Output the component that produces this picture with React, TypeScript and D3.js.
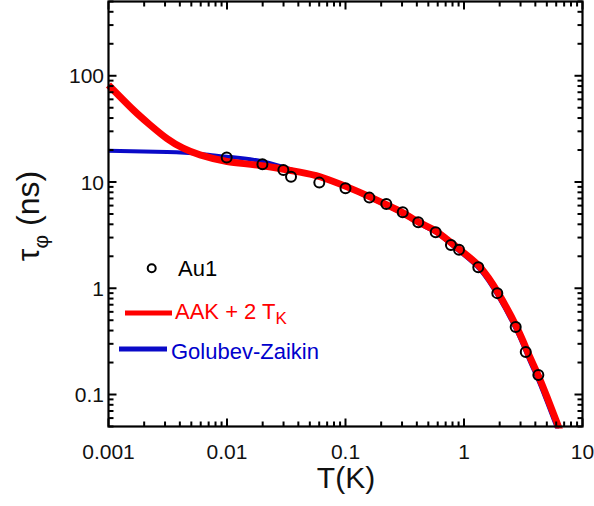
import React from "react";
import * as d3 from "d3";

// Experimental data: Au1
const dataT = [0.00994, 0.0199, 0.0299, 0.0347, 0.0601, 0.1, 0.159, 0.221, 0.304, 0.411, 0.577, 0.776, 0.908, 1.32, 1.91, 2.73, 3.32, 4.24];
const dataTau = [17.0, 14.7, 13.0, 11.2, 9.87, 8.75, 7.13, 6.22, 5.2, 4.19, 3.37, 2.56, 2.3, 1.58, 0.9, 0.431, 0.251, 0.153];

// AAK + 2 T_K curve
const aakT = [0.001, 0.00161, 0.00224, 0.00312, 0.00426, 0.00592, 0.01, 0.019, 0.0413, 0.061, 0.103, 0.161, 0.224, 0.306, 0.426, 0.592, 0.925, 1.36, 1.94, 2.8, 3.47, 4.21, 5.01, 6.1, 6.46];
const aakTau = [81.9, 48.0, 34.5, 25.6, 20.8, 18.0, 15.6, 14.3, 12.4, 11.2, 9.0, 7.24, 6.09, 5.12, 4.12, 3.4, 2.3, 1.59, 0.905, 0.425, 0.247, 0.153, 0.095, 0.054, 0.045];

// Golubev-Zaikin curve
const gzT = [0.001, 0.00312, 0.00592, 0.01, 0.02, 0.0413, 0.061, 0.103, 0.161, 0.224, 0.306, 0.426, 0.592, 0.925, 1.36, 1.94, 2.8, 3.47, 4.21, 5.01, 6.1, 6.4];
const gzTau = [19.7, 19.2, 18.4, 17.3, 15.6, 12.4, 11.0, 8.85, 7.1, 5.95, 5.0, 4.0, 3.28, 2.2, 1.5, 0.84, 0.39, 0.225, 0.138, 0.085, 0.048, 0.042];

const xTickValues = [0.001, 0.01, 0.1, 1, 10];
const xTickLabels = ["0.001", "0.01", "0.1", "1", "10"];
const yTickValues = [0.1, 1, 10, 100];
const yTickLabels = ["0.1", "1", "10", "100"];

const legendLabels = ["Au1", "AAK + 2 T", "K", "Golubev-Zaikin"];

const FONT = "'Liberation Sans', Arial, Helvetica, sans-serif";

export default function App() {
  const W = 594, H = 506;
  const left = 108.5, right = 582.5, top = 1.5, bottom = 426.5;

  const x = d3.scaleLog().domain([0.001, 10]).range([left, right]);
  const y = d3.scaleLog().domain([0.05, 500]).range([bottom, top]);

  const line = d3
    .line<[number, number]>()
    .x((d) => x(d[0]))
    .y((d) => y(d[1]))
    .curve(d3.curveNatural);

  const aakPts = aakT.map((t, i) => [t, aakTau[i]] as [number, number]);
  const gzPts = gzT.map((t, i) => [t, gzTau[i]] as [number, number]);

  // minor ticks
  const xMinor: number[] = [];
  for (let e = -3; e < 1; e++) for (let m = 2; m <= 9; m++) xMinor.push(m * Math.pow(10, e));
  const yMinor: number[] = [];
  for (let e = -2; e <= 2; e++)
    for (let m = 2; m <= 9; m++) {
      const v = m * Math.pow(10, e);
      if (v >= 0.05 && v <= 500 && !(e === -2 && m < 5)) yMinor.push(v);
    }

  const majL = 8, minL = 5;
  const tickStroke = 2;

  return (
    <div style={{ position: "fixed", left: 0, top: 0, width: W, height: H, background: "#fff" }}>
      <svg width={W} height={H} style={{ display: "block" }} fontFamily={FONT}>
        <defs>
          <clipPath id="plotclip">
            <rect x={left - 3} y={top} width={right - left + 3} height={bottom - top + 2} />
          </clipPath>
        </defs>

        {/* curves */}
        <g clipPath="url(#plotclip)">
          <path d={line(gzPts) || ""} fill="none" stroke="#0a0ac8" strokeWidth={4} />
          <path d={line(aakPts) || ""} fill="none" stroke="#ff0000" strokeWidth={7} />
        </g>

        {/* data points */}
        {dataT.map((t, i) => (
          <circle key={i} cx={x(t)} cy={y(dataTau[i])} r={5} fill="none" stroke="#000" strokeWidth={2} />
        ))}

        {/* ticks */}
        <g stroke="#000" strokeWidth={tickStroke}>
          {xTickValues.map((v, i) => (
            <g key={"xM" + i}>
              <line x1={x(v)} x2={x(v)} y1={bottom} y2={bottom - majL} />
              <line x1={x(v)} x2={x(v)} y1={top} y2={top + majL} />
            </g>
          ))}
          {xMinor.map((v, i) => (
            <g key={"xm" + i}>
              <line x1={x(v)} x2={x(v)} y1={bottom} y2={bottom - minL} />
              <line x1={x(v)} x2={x(v)} y1={top} y2={top + minL} />
            </g>
          ))}
          {yTickValues.map((v, i) => (
            <g key={"yM" + i}>
              <line x1={left} x2={left + majL} y1={y(v)} y2={y(v)} />
              <line x1={right} x2={right - majL} y1={y(v)} y2={y(v)} />
            </g>
          ))}
          {yMinor.map((v, i) => (
            <g key={"ym" + i}>
              <line x1={left} x2={left + minL} y1={y(v)} y2={y(v)} />
              <line x1={right} x2={right - minL} y1={y(v)} y2={y(v)} />
            </g>
          ))}
        </g>

        {/* frame */}
        <rect x={left} y={top} width={right - left} height={bottom - top} fill="none" stroke="#000" strokeWidth={2.2} />

        {/* tick labels */}
        <g fontSize={21} fill="#111">
          {xTickValues.map((v, i) => (
            <text key={"xl" + i} x={x(v)} y={459} textAnchor="middle">
              {xTickLabels[i]}
            </text>
          ))}
          {yTickValues.map((v, i) => (
            <text key={"yl" + i} x={104} y={y(v)} dy="0.36em" textAnchor="end">
              {yTickLabels[i]}
            </text>
          ))}
        </g>

        {/* axis titles */}
        <text x={346} y={488} fontSize={30} textAnchor="middle" fill="#111">
          T(K)
        </text>
        <text transform="translate(39,216) rotate(-90)" fontSize={32} textAnchor="middle" fill="#111">
          <tspan>τ</tspan>
          <tspan fontSize={21} dy={9}>φ</tspan>
          <tspan dy={-9}> (ns)</tspan>
        </text>

        {/* legend */}
        <circle cx={151.7} cy={268.3} r={4} fill="none" stroke="#000" strokeWidth={2} />
        <text x={178} y={276} fontSize={22} fill="#000">
          {legendLabels[0]}
        </text>
        <line x1={125} x2={172} y1={313} y2={313} stroke="#ff0000" strokeWidth={5} />
        <text x={175} y={319} fontSize={22} fill="#ff0000">
          {legendLabels[1]}
          <tspan fontSize={17} dy={5}>{legendLabels[2]}</tspan>
        </text>
        <line x1={119} x2={167} y1={349} y2={349} stroke="#0a0ac8" strokeWidth={5} />
        <text x={171} y={359} fontSize={22} fill="#0000cc">
          {legendLabels[3]}
        </text>
      </svg>
    </div>
  );
}
